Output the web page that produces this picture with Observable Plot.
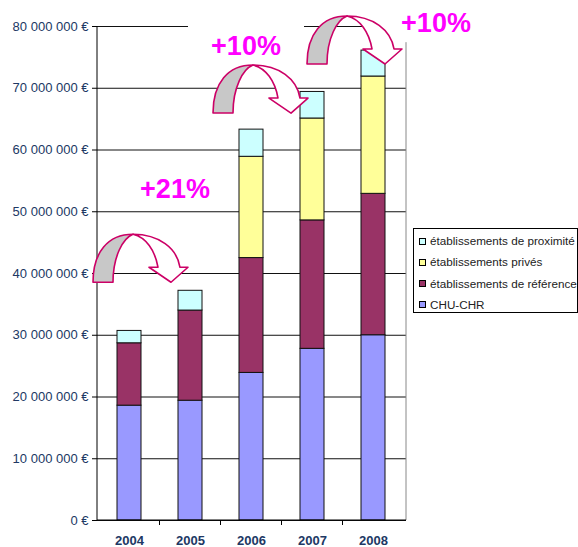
<!DOCTYPE html>
<html><head><meta charset="utf-8">
<script src="https://cdn.jsdelivr.net/npm/d3@7"></script>
<script src="https://cdn.jsdelivr.net/npm/@observablehq/plot@0.6"></script>
<style>body{margin:0;background:#fff} svg{display:block}</style>
</head><body><div id="chart"></div>
<script>
// ---- data ----
const years = ["2004", "2005", "2006", "2007", "2008"];
const categories = ["CHU-CHR", "établissements de référence", "établissements privés", "établissements de proximité"];
const chuChr    = [18.6e6, 19.4e6, 23.9e6, 27.8e6, 30.0e6];
const reference = [10.1e6, 14.6e6, 18.6e6, 20.8e6, 22.9e6];
const prives    = [0, 0, 16.4e6, 16.5e6, 19.0e6];
const proximite = [2.0e6, 3.2e6, 4.4e6, 4.3e6, 4.2e6];
const yTicks = [0, 10e6, 20e6, 30e6, 40e6, 50e6, 60e6, 70e6, 80e6];
const colors = ["#9999FF", "#993366", "#FFFF99", "#CCFFFF"];
const growthLabels = ["+21%", "+10%", "+10%"];
const growthYears = ["2005", "2006", "2008"];
const growthValues = [52.1e6, 75.3e6, 79.0e6];
const arrowFrom = ["2004", "2006", "2007"];
const arrowValues = [38.5e6, 65.9e6, 73.85e6];

const series = [chuChr, reference, prives, proximite];
const data = [];
years.forEach((yr, i) => {
  categories.forEach((c, k) => {
    if (series[k][i] > 0) data.push({year: yr, category: c, value: series[k][i]});
  });
});

const fmt = d => d3.format(",")(d).replace(/,/g, " ") + " €";
const font = "Liberation Sans, Arial, Helvetica, sans-serif";

const plot = Plot.plot({
  width: 578, height: 547,
  marginLeft: 97, marginRight: 172, marginTop: 26, marginBottom: 27,
  style: {fontFamily: font, background: "#fff", overflow: "visible"},
  x: {domain: years, paddingInner: 0.6, paddingOuter: 0.3, label: null},
  y: {domain: [0, 80e6], label: null},
  color: {domain: categories, range: colors},
  marks: [
    Plot.gridY(yTicks, {stroke: "#111", strokeOpacity: 1}),
    Plot.barY(data, {x: "year", y: "value", fill: "category", stroke: "#111", strokeWidth: 1, order: categories}),
    Plot.axisY(yTicks, {tickSize: 5, tickPadding: 4, tickFormat: fmt, fontSize: 13, fill: "#203864", stroke: "#000", label: null}),
    Plot.axisX({tickSize: 0, tickPadding: 15, fontSize: 13, fontWeight: "bold", fill: "#203864", label: null})
  ]
});
document.getElementById("chart").appendChild(plot);

// ---- decorations using the plot's scales ----
const sx = plot.scale("x"), sy = plot.scale("y");
const bw = sx.bandwidth, step = sx.step;
const xc = yr => sx.apply(yr) + bw / 2;
const svg = d3.select(plot);
const y0 = sy.apply(0), yTop = sy.apply(80e6);
const xLeft = 97, xRight = 578 - 172;

// right border of plot area
svg.append("line").attr("x1", xRight).attr("x2", xRight).attr("y1", yTop).attr("y2", y0)
  .attr("stroke", "#888").attr("stroke-width", 1);
// y axis line
svg.append("line").attr("x1", xLeft).attr("x2", xLeft).attr("y1", yTop).attr("y2", y0)
  .attr("stroke", "#000").attr("stroke-width", 1);
// x axis line and category boundary ticks
svg.append("line").attr("x1", xLeft).attr("x2", xRight).attr("y1", y0).attr("y2", y0)
  .attr("stroke", "#000");
years.slice(1).forEach(yr => {
  const bx = sx.apply(yr) - (step - bw) / 2;
  svg.append("line").attr("x1", bx).attr("x2", bx).attr("y1", y0).attr("y2", y0 + 5).attr("stroke", "#000");
});

// growth labels with white boxes
const labelDx = [-15, -5, 63];
growthLabels.forEach((t, i) => {
  const x = xc(growthYears[i]) + labelDx[i], y = sy.apply(growthValues[i]);
  svg.append("rect").attr("x", x - 58).attr("y", y - 30).attr("width", 116).attr("height", 40).attr("fill", "#fff");
  svg.append("text").attr("x", x).attr("y", y).attr("text-anchor", "middle")
    .attr("font-family", font).attr("font-weight", "bold").attr("font-size", 27)
    .attr("fill", "#FF00FF").text(t);
});

// curved arrows
const arrowDx = [-36, -38, -5];
const whitePath = "M40,-48 C66,-48 84,-34 87,-15 L95,-15 L78,0 L56,-15 L65,-15 C62,-32 53,-45 40,-48 Z";
const grayPath = "M0,0 C0,-30 15,-48 40,-48 C30,-44 20,-26 20,0 Z";
arrowFrom.forEach((yr, i) => {
  const g = svg.append("g").attr("transform", `translate(${xc(yr) + arrowDx[i]},${sy.apply(arrowValues[i])})`);
  g.append("path").attr("d", whitePath).attr("fill", "#fff").attr("stroke", "#CC0066").attr("stroke-width", 1.6).attr("stroke-linejoin", "round");
  g.append("path").attr("d", grayPath).attr("fill", "#C8C8C8").attr("stroke", "#CC0066").attr("stroke-width", 1.6).attr("stroke-linejoin", "round");
});

// legend
const lg = svg.append("g").attr("transform", "translate(413,228)");
lg.append("rect").attr("x", 0.5).attr("y", 0.5).attr("width", 164).attr("height", 84)
  .attr("fill", "#fff").attr("stroke", "#000");
const legendOrder = categories.slice().reverse();
legendOrder.forEach((c, i) => {
  const cy = 13 + i * 21.3;
  lg.append("rect").attr("x", 6.5).attr("y", Math.round(cy - 3.5) + 0.5).attr("width", 6).attr("height", 6)
    .attr("fill", colors[categories.indexOf(c)]).attr("stroke", "#000");
  lg.append("text").attr("x", 17).attr("y", cy).attr("dy", "0.35em").attr("text-anchor", "start")
    .attr("font-family", font).attr("font-size", 11.7).attr("fill", "#222").text(c);
});
</script>
</body></html>
